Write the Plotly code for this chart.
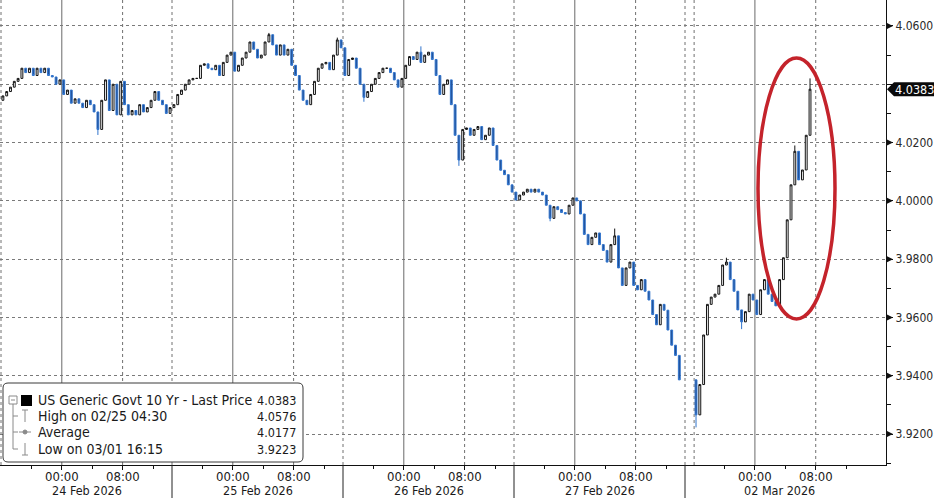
import plotly.graph_objects as go

# ---------------- data (30-minute bars, closes) ----------------
session_labels = ["24 Feb 2026", "25 Feb 2026", "26 Feb 2026", "27 Feb 2026", "02 Mar 2026"]
session_start_h = [0.0, 22.5, 45.0, 67.5, 91.2]   # compressed trading-time axis (hours)
session_len_h = 22.5

close_24feb = [4.0360, 4.0375, 4.0390, 4.0410, 4.0420, 4.0455, 4.0440, 4.0455, 4.0430, 4.0455,
               4.0440, 4.0455, 4.0430, 4.0425, 4.0400, 4.0415, 4.0365, 4.0380, 4.0335, 4.0350,
               4.0335, 4.0320, 4.0345, 4.0330, 4.0305, 4.0245, 4.0345, 4.0415, 4.0310, 4.0400,
               4.0295, 4.0410, 4.0330, 4.0295, 4.0310, 4.0295, 4.0330, 4.0305, 4.0320, 4.0345,
               4.0375, 4.0345, 4.0330, 4.0300, 4.0320]
close_25feb = [4.0330, 4.0365, 4.0380, 4.0400, 4.0415, 4.0420, 4.0420, 4.0465, 4.0470, 4.0455,
               4.0450, 4.0465, 4.0430, 4.0475, 4.0500, 4.0510, 4.0445, 4.0465, 4.0490, 4.0510,
               4.0545, 4.0520, 4.0490, 4.0500, 4.0545, 4.0570, 4.0535, 4.0500, 4.0535, 4.0500,
               4.0520, 4.0465, 4.0430, 4.0380, 4.0345, 4.0330, 4.0365, 4.0410, 4.0455, 4.0470,
               4.0475, 4.0450, 4.0500, 4.0552, 4.0525]
close_26feb = [4.0430, 4.0485, 4.0490, 4.0455, 4.0400, 4.0355, 4.0375, 4.0400, 4.0420, 4.0440,
               4.0455, 4.0455, 4.0440, 4.0415, 4.0390, 4.0420, 4.0465, 4.0495, 4.0485, 4.0510,
               4.0475, 4.0500, 4.0510, 4.0485, 4.0430, 4.0365, 4.0400, 4.0415, 4.0330, 4.0225,
               4.0140, 4.0245, 4.0250, 4.0225, 4.0245, 4.0255, 4.0210, 4.0225, 4.0250, 4.0190,
               4.0140, 4.0105, 4.0090, 4.0055, 4.0030]
close_27feb = [4.0003, 4.0020, 4.0030, 4.0040, 4.0030, 4.0040, 4.0030, 4.0020, 3.9985, 3.9940,
               3.9980, 3.9970, 3.9960, 3.9955, 3.9985, 4.0010, 4.0000, 3.9955, 3.9885, 3.9850,
               3.9875, 3.9890, 3.9850, 3.9830, 3.9790, 3.9850, 3.9880, 3.9770, 3.9710, 3.9770,
               3.9790, 3.9710, 3.9695, 3.9730, 3.9690, 3.9660, 3.9610, 3.9575, 3.9645, 3.9625,
               3.9557, 3.9505, 3.9470, 3.9386]
close_02mar = [3.9266, 3.9370, 3.9540, 3.9645, 3.9670, 3.9680, 3.9710, 3.9780, 3.9790, 3.9730,
               3.9690, 3.9626, 3.9585, 3.9620, 3.9680, 3.9660, 3.9610, 3.9695, 3.9730, 3.9680,
               3.9655, 3.9640, 3.9730, 3.9805, 3.9935, 4.0055, 4.0170, 4.0072, 4.0106, 4.0225,
               4.0383]
first_open = 4.0345

# wick extremes visible on the chart: (session, bar) -> price
wick_high = {(1, 25): 4.0576, (1, 43): 4.0560, (2, 20): 4.0530, (3, 26): 3.9905,
             (4, 8): 3.9805, (4, 26): 4.0190, (4, 30): 4.0420}
wick_low = {(0, 25): 4.0226, (2, 30): 4.0120, (2, 5): 4.0340, (4, 0): 3.9223,
            (4, 12): 3.9560, (3, 9): 3.9930}

last_price = 4.0383
legend_rows = [("US Generic Govt 10 Yr - Last Price", "4.0383"),
               ("High on 02/25 04:30", "4.0576"),
               ("Average", "4.0177"),
               ("Low on 03/01 16:15", "3.9223")]

y_ticks = [3.92, 3.94, 3.96, 3.98, 4.00, 4.02, 4.04, 4.06]
time_tick_labels = ["00:00", "08:00"]

# ---------------- build OHLC ----------------
sessions = [close_24feb, close_25feb, close_26feb, close_27feb, close_02mar]
xs, o, h, l, c = [], [], [], [], []
prev = first_open
for k, closes in enumerate(sessions):
    for i, cl in enumerate(closes):
        xs.append(session_start_h[k] + 0.5 * i + 0.25)
        op = prev
        hi = max(op, cl)
        lo = min(op, cl)
        if (k, i) in wick_high:
            hi = max(hi, wick_high[(k, i)])
        if (k, i) in wick_low:
            lo = min(lo, wick_low[(k, i)])
        o.append(op); h.append(hi); l.append(lo); c.append(cl)
        prev = cl

FONT = "DejaVu Sans Condensed, Liberation Sans, sans-serif"
W, H = 936, 498
PL, PR, PT, PB = 0, 50, 0, 33
PW = W - PL - PR      # 886
PH = H - PT - PB      # 465
PX_PER_H = 7.6
X0 = -1 / PX_PER_H
X1 = (PW - 1) / PX_PER_H
Y_TOP = 4.0689
Y_BOT = 3.9094
PER_PX = (Y_TOP - Y_BOT) / PH


def xp(px):
    return px / PW


def yp(py):
    return (PH - py) / PH


fig = go.Figure()
fig.add_trace(go.Candlestick(
    x=xs, open=o, high=h, low=l, close=c,
    increasing=dict(line=dict(color="#111111", width=1), fillcolor="#ffffff"),
    decreasing=dict(line=dict(color="#3174cc", width=1), fillcolor="#1d4a90"),
    whiskerwidth=0, showlegend=False, hoverinfo="skip"))

shapes = []
# vertical grid lines
for k, s in enumerate(session_start_h):
    shapes.append(dict(type="line", xref="x", yref="paper", x0=s + 8, x1=s + 8, y0=0, y1=1,
                       line=dict(color="#6a6a6a", width=1), layer="below"))
    shapes.append(dict(type="line", xref="x", yref="paper", x0=s + 16, x1=s + 16, y0=0, y1=1,
                       line=dict(color="#707070", width=1, dash="dot"), layer="below"))
boundaries = [0.0, 22.5, 45.0, 67.5, 90.0, 91.2]
for b in boundaries:
    shapes.append(dict(type="line", xref="x", yref="paper", x0=b, x1=b, y0=0, y1=1,
                       line=dict(color="#707070", width=1, dash="dot"), layer="below"))
# session separators below the axis
for b in [22.5, 45.0, 67.5, 90.0]:
    shapes.append(dict(type="line", xref="x", yref="paper", x0=b, x1=b, y0=yp(PH + 40), y1=0,
                       line=dict(color="#222222", width=1)))

# axis triangles on the right
tri_h = 3.5 * PER_PX
for v in y_ticks:
    if abs(v - 4.04) < 1e-9:
        continue
    shapes.append(dict(type="path", xref="paper", yref="y",
                       path=f"M {xp(PW)},{v + tri_h} L {xp(PW + 7)},{v} L {xp(PW)},{v - tri_h} Z",
                       fillcolor="#111111", line=dict(width=0)))

# last price tag
th = 7 * PER_PX
lp = last_price
shapes.append(dict(type="path", xref="paper", yref="y",
                   path=(f"M {xp(PW + 1)},{lp} L {xp(PW + 8)},{lp + th} L {xp(PW + 48)},{lp + th} "
                         f"L {xp(PW + 48)},{lp - th} L {xp(PW + 8)},{lp - th} Z"),
                   fillcolor="#0a0a0a", line=dict(width=0)))

# red ellipse
shapes.append(dict(type="circle", xref="paper", yref="paper",
                   x0=xp(758), x1=xp(835), y0=yp(319), y1=yp(58),
                   line=dict(color="#c4232b", width=3.5)))

# legend box (rounded)
bx0, bx1, by0, by1, r = 3, 303, 383, 462, 5
box_path = (f"M {xp(bx0 + r)},{yp(by0)} L {xp(bx1 - r)},{yp(by0)} Q {xp(bx1)},{yp(by0)} {xp(bx1)},{yp(by0 + r)} "
            f"L {xp(bx1)},{yp(by1 - r)} Q {xp(bx1)},{yp(by1)} {xp(bx1 - r)},{yp(by1)} "
            f"L {xp(bx0 + r)},{yp(by1)} Q {xp(bx0)},{yp(by1)} {xp(bx0)},{yp(by1 - r)} "
            f"L {xp(bx0)},{yp(by0 + r)} Q {xp(bx0)},{yp(by0)} {xp(bx0 + r)},{yp(by0)} Z")
shapes.append(dict(type="path", xref="paper", yref="paper", path=box_path,
                   fillcolor="#ffffff", line=dict(color="#3a3a3a", width=1)))

row_y = [400, 416, 432, 449]
gray = "#8a8a8a"
# tree
shapes.append(dict(type="rect", xref="paper", yref="paper", x0=xp(9), x1=xp(17), y0=yp(404), y1=yp(396),
                   line=dict(color=gray, width=1), fillcolor="#ffffff"))
shapes.append(dict(type="line", xref="paper", yref="paper", x0=xp(11), x1=xp(15), y0=yp(400), y1=yp(400),
                   line=dict(color=gray, width=1)))
shapes.append(dict(type="line", xref="paper", yref="paper", x0=xp(13), x1=xp(13), y0=yp(404), y1=yp(449),
                   line=dict(color=gray, width=1)))
for ry in row_y[1:]:
    shapes.append(dict(type="line", xref="paper", yref="paper", x0=xp(13), x1=xp(18), y0=yp(ry), y1=yp(ry),
                       line=dict(color=gray, width=1)))
# black square
shapes.append(dict(type="rect", xref="paper", yref="paper", x0=xp(21), x1=xp(32), y0=yp(406), y1=yp(395),
                   fillcolor="#000000", line=dict(width=0)))
# high symbol
shapes.append(dict(type="line", xref="paper", yref="paper", x0=xp(25), x1=xp(25), y0=yp(410), y1=yp(422),
                   line=dict(color=gray, width=1)))
shapes.append(dict(type="line", xref="paper", yref="paper", x0=xp(22), x1=xp(28), y0=yp(410), y1=yp(410),
                   line=dict(color=gray, width=1)))
# average symbol
shapes.append(dict(type="line", xref="paper", yref="paper", x0=xp(19), x1=xp(31), y0=yp(432), y1=yp(432),
                   line=dict(color=gray, width=1)))
shapes.append(dict(type="circle", xref="paper", yref="paper", x0=xp(23), x1=xp(27), y0=yp(434), y1=yp(430),
                   line=dict(color=gray, width=1), fillcolor=gray))
# low symbol
shapes.append(dict(type="line", xref="paper", yref="paper", x0=xp(25), x1=xp(25), y0=yp(443), y1=yp(455),
                   line=dict(color=gray, width=1)))
shapes.append(dict(type="line", xref="paper", yref="paper", x0=xp(22), x1=xp(28), y0=yp(455), y1=yp(455),
                   line=dict(color=gray, width=1)))

annotations = []
for (lab, val), ry in zip(legend_rows, row_y):
    annotations.append(dict(xref="paper", yref="paper", x=xp(36), y=yp(ry), text=lab, showarrow=False,
                            xanchor="left", yanchor="middle", font=dict(family=FONT, size=14, color="#1a1a1a")))
    annotations.append(dict(xref="paper", yref="paper", x=xp(298), y=yp(ry), text=val, showarrow=False,
                            xanchor="right", yanchor="middle", font=dict(family=FONT, size=12.5, color="#1a1a1a")))

# time and date labels under the axis
x_tickvals, x_minor = [], []
for k, s in enumerate(session_start_h):
    for off, lab in zip([8, 16], time_tick_labels):
        x_tickvals.append(s + off)
        annotations.append(dict(xref="x", yref="paper", x=s + off, y=yp(476), text=lab, showarrow=False,
                                xanchor="center", yanchor="middle",
                                font=dict(family=FONT, size=13, color="#1a1a1a")))
    x_minor += [s + 4, s + 12, s + 20]
    annotations.append(dict(xref="x", yref="paper", x=s + session_len_h / 2, y=yp(490),
                            text=session_labels[k], showarrow=False, xanchor="center", yanchor="middle",
                            font=dict(family=FONT, size=12.5, color="#1a1a1a")))

# last price tag text
annotations.append(dict(xref="paper", yref="y", x=xp(PW + 28), y=lp, text=f"{last_price:.4f}",
                        showarrow=False, xanchor="center", yanchor="middle",
                        font=dict(family=FONT, size=12.5, color="#ffffff")))

fig.update_layout(
    width=W, height=H,
    margin=dict(l=PL, r=PR, t=PT, b=PB, autoexpand=False),
    paper_bgcolor="#ffffff", plot_bgcolor="#ffffff",
    showlegend=False,
    shapes=shapes, annotations=annotations,
    xaxis=dict(range=[X0, X1], showgrid=False, zeroline=False, rangeslider=dict(visible=False),
               showline=True, linecolor="#111111", linewidth=1,
               ticks="outside", ticklen=4, tickcolor="#111111",
               tickvals=x_tickvals, showticklabels=False,
               minor=dict(tickmode="array", tickvals=x_minor, ticks="outside", ticklen=3,
                          tickcolor="#111111", showgrid=False)),
    yaxis=dict(range=[Y_BOT, Y_TOP], side="right", showline=True, linecolor="#111111", linewidth=1,
               zeroline=False, showgrid=True, gridcolor="#7a7a7a", griddash="dot", gridwidth=1,
               tickvals=y_ticks, ticktext=["" if abs(v - 4.04) < 1e-9 else f"{v:.4f}" for v in y_ticks],
               ticks="outside", ticklen=6, tickcolor="#111111",
               tickfont=dict(family=FONT, size=12, color="#2a2a2a"),
               minor=dict(tickmode="linear", tick0=3.91, dtick=0.01, ticks="outside", ticklen=4,
                          tickcolor="#111111", showgrid=False)),
)

fig.write_html("out.html", config={"displayModeBar": False},
               post_script="document.body.style.margin='0';")
